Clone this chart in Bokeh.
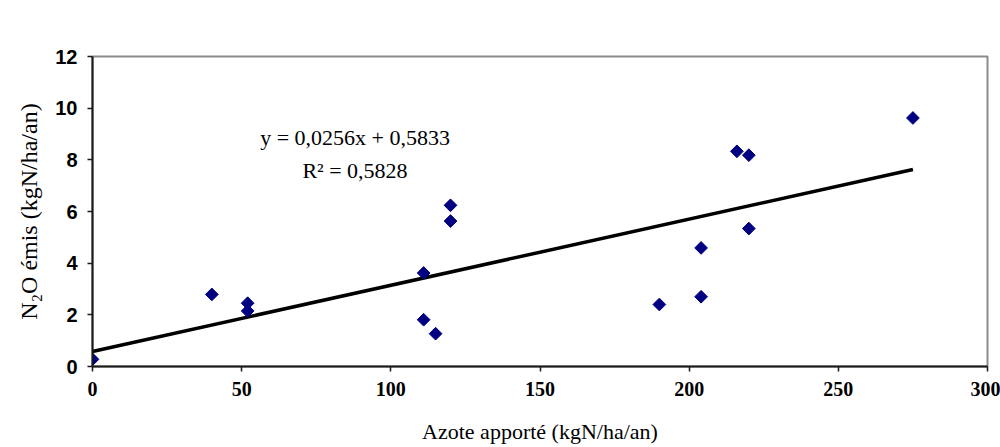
import math
from bokeh.plotting import figure
from bokeh.models import FixedTicker, Range1d, Label
from bokeh.embed import file_html
from bokeh.resources import INLINE

# Data
n_apport = [0, 40, 52, 52, 111, 111, 115, 120, 120, 190, 204, 204, 216, 220, 220, 275]
n2o_emis = [0.28, 2.79, 2.45, 2.15, 3.62, 1.81, 1.27, 6.24, 5.63, 2.40, 4.59, 2.70, 8.33, 8.18, 5.34, 9.62]
slope = 0.0256
intercept = 0.5833
r2 = 0.5828
x_ticks = [0, 50, 100, 150, 200, 250, 300]
y_ticks = [0, 2, 4, 6, 8, 10, 12]

p = figure(width=1000, height=447, output_backend="svg", toolbar_location=None,
           x_range=Range1d(0, 300), y_range=Range1d(0, 12),
           min_border_left=92, min_border_right=13, min_border_top=56, min_border_bottom=81)
p.background_fill_color = "white"
p.border_fill_color = "white"
p.outline_line_color = "#8c8c8c"
p.outline_line_width = 2
p.xgrid.visible = False
p.ygrid.visible = False

for ax in (p.xaxis[0], p.yaxis[0]):
    ax.axis_line_color = "#1a1a1a"
    ax.axis_line_width = 2
    ax.major_tick_line_color = "#1a1a1a"
    ax.major_tick_line_width = 1.5
    ax.major_tick_out = 5
    ax.major_tick_in = 0
    ax.minor_tick_line_color = None
    ax.major_label_text_font_style = "bold"
    ax.major_label_text_color = "black"
    ax.axis_label_text_color = "black"
    ax.axis_label_text_font = "Liberation Serif"
    ax.axis_label_text_font_style = "normal"

p.xaxis.ticker = FixedTicker(ticks=x_ticks)
p.yaxis.ticker = FixedTicker(ticks=y_ticks)
p.xaxis.major_label_text_font = "Liberation Serif"
p.xaxis.major_label_text_font_size = "20px"
p.xaxis.major_label_standoff = 10
p.yaxis.major_label_text_font = "Liberation Sans"
p.yaxis.major_label_text_font_size = "20px"
p.yaxis.major_label_standoff = 10
p.xaxis.axis_label = "Azote apporté (kgN/ha/an)"
p.yaxis.axis_label = "N\u2082O émis (kgN/ha/an)"
p.xaxis.axis_label_text_font_size = "22px"
p.yaxis.axis_label_text_font_size = "24px"
p.xaxis.axis_label_standoff = 20
p.yaxis.axis_label_standoff = 10

# trend line over the data span
x0, x1 = min(n_apport), max(n_apport)
p.line([x0, x1], [slope * x0 + intercept, slope * x1 + intercept],
       line_color="black", line_width=3.5)

# points
p.scatter(n_apport, n2o_emis, marker="square", angle=math.pi / 4, size=9,
          fill_color="#000080", line_color="#000080")

eq = "y = " + f"{slope:.4f}".replace(".", ",") + "x + " + f"{intercept:.4f}".replace(".", ",")
rr = "R\u00b2 = " + f"{r2:.4f}".replace(".", ",")
p.add_layout(Label(x=88, y=8.88, text=eq, text_align="center", text_baseline="middle",
                   text_font="Liberation Serif", text_font_size="22px", text_color="black"))
p.add_layout(Label(x=88, y=7.6, text=rr, text_align="center", text_baseline="middle",
                   text_font="Liberation Serif", text_font_size="22px", text_color="black"))

open("out.html", "w").write(file_html(p, INLINE))
